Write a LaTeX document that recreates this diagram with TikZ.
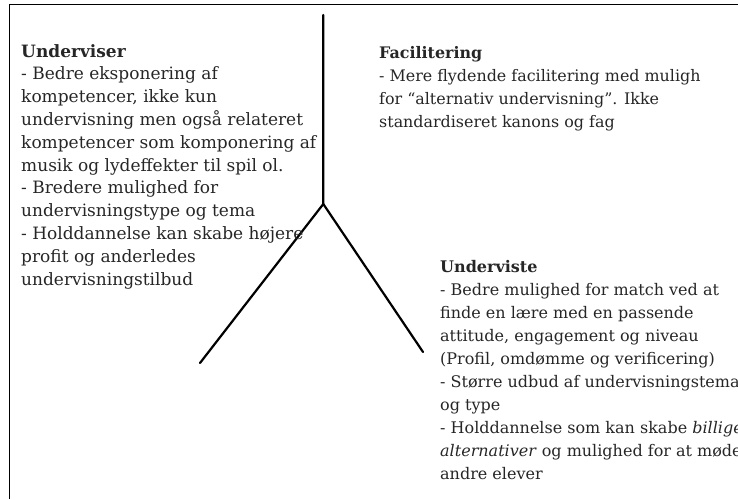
\documentclass[tikz,border=0pt]{standalone}
\usepackage{fontspec}
\setmainfont{DejaVu Serif}
\definecolor{txt}{HTML}{262626}
\begin{document}
\begin{tikzpicture}[x=1pt,y=-1pt,
  block/.style={anchor=north west,inner sep=0pt,align=left,text=txt},
  frame/.style={line width=1.3pt,black},
  branch/.style={line width=2.2pt,black,line cap=round}]
\useasboundingbox (0,0) rectangle (738,499);
\draw[frame] (9.3,499) -- (9.3,4.3) -- (738,4.3);
\coordinate (top) at (323.3,15);
\coordinate (mid) at (323.3,204);
\coordinate (lend) at (200,363);
\coordinate (rend) at (423,352);
\draw[branch] (top) -- (mid) -- (lend);
\draw[branch] (mid) -- (rend);
\node[block,font=\fontsize{17}{22.8}\selectfont] (underviser) at (21,44) {\textbf{Underviser}\\
- Bedre eksponering af\\
kompetencer, ikke kun\\
undervisning men også relateret\\
kompetencer som komponering af\\
musik og lydeffekter til spil ol.\\
- Bredere mulighed for\\
undervisningstype og tema\\
- Holddannelse kan skabe højere\\
profit og anderledes\\
undervisningstilbud};
\node[block,font=\fontsize{15.9}{23.2}\selectfont] (facilitering) at (379,46) {\textbf{Facilitering}\\
- Mere flydende facilitering med muligh\\
for “alternativ undervisning”. Ikke\\
standardiseret kanons og fag};
\node[block,font=\fontsize{16}{23}\selectfont] (underviste) at (440,260) {\textbf{Underviste}\\
- Bedre mulighed for match ved at\\
finde en lære med en passende\\
attitude, engagement og niveau\\
(Profil, omdømme og verificering)\\
- Større udbud af undervisningstema\\
og type\\
- Holddannelse som kan skabe \textit{billige}\\
\textit{alternativer} og mulighed for at møde\\
andre elever};
\end{tikzpicture}
\end{document}
